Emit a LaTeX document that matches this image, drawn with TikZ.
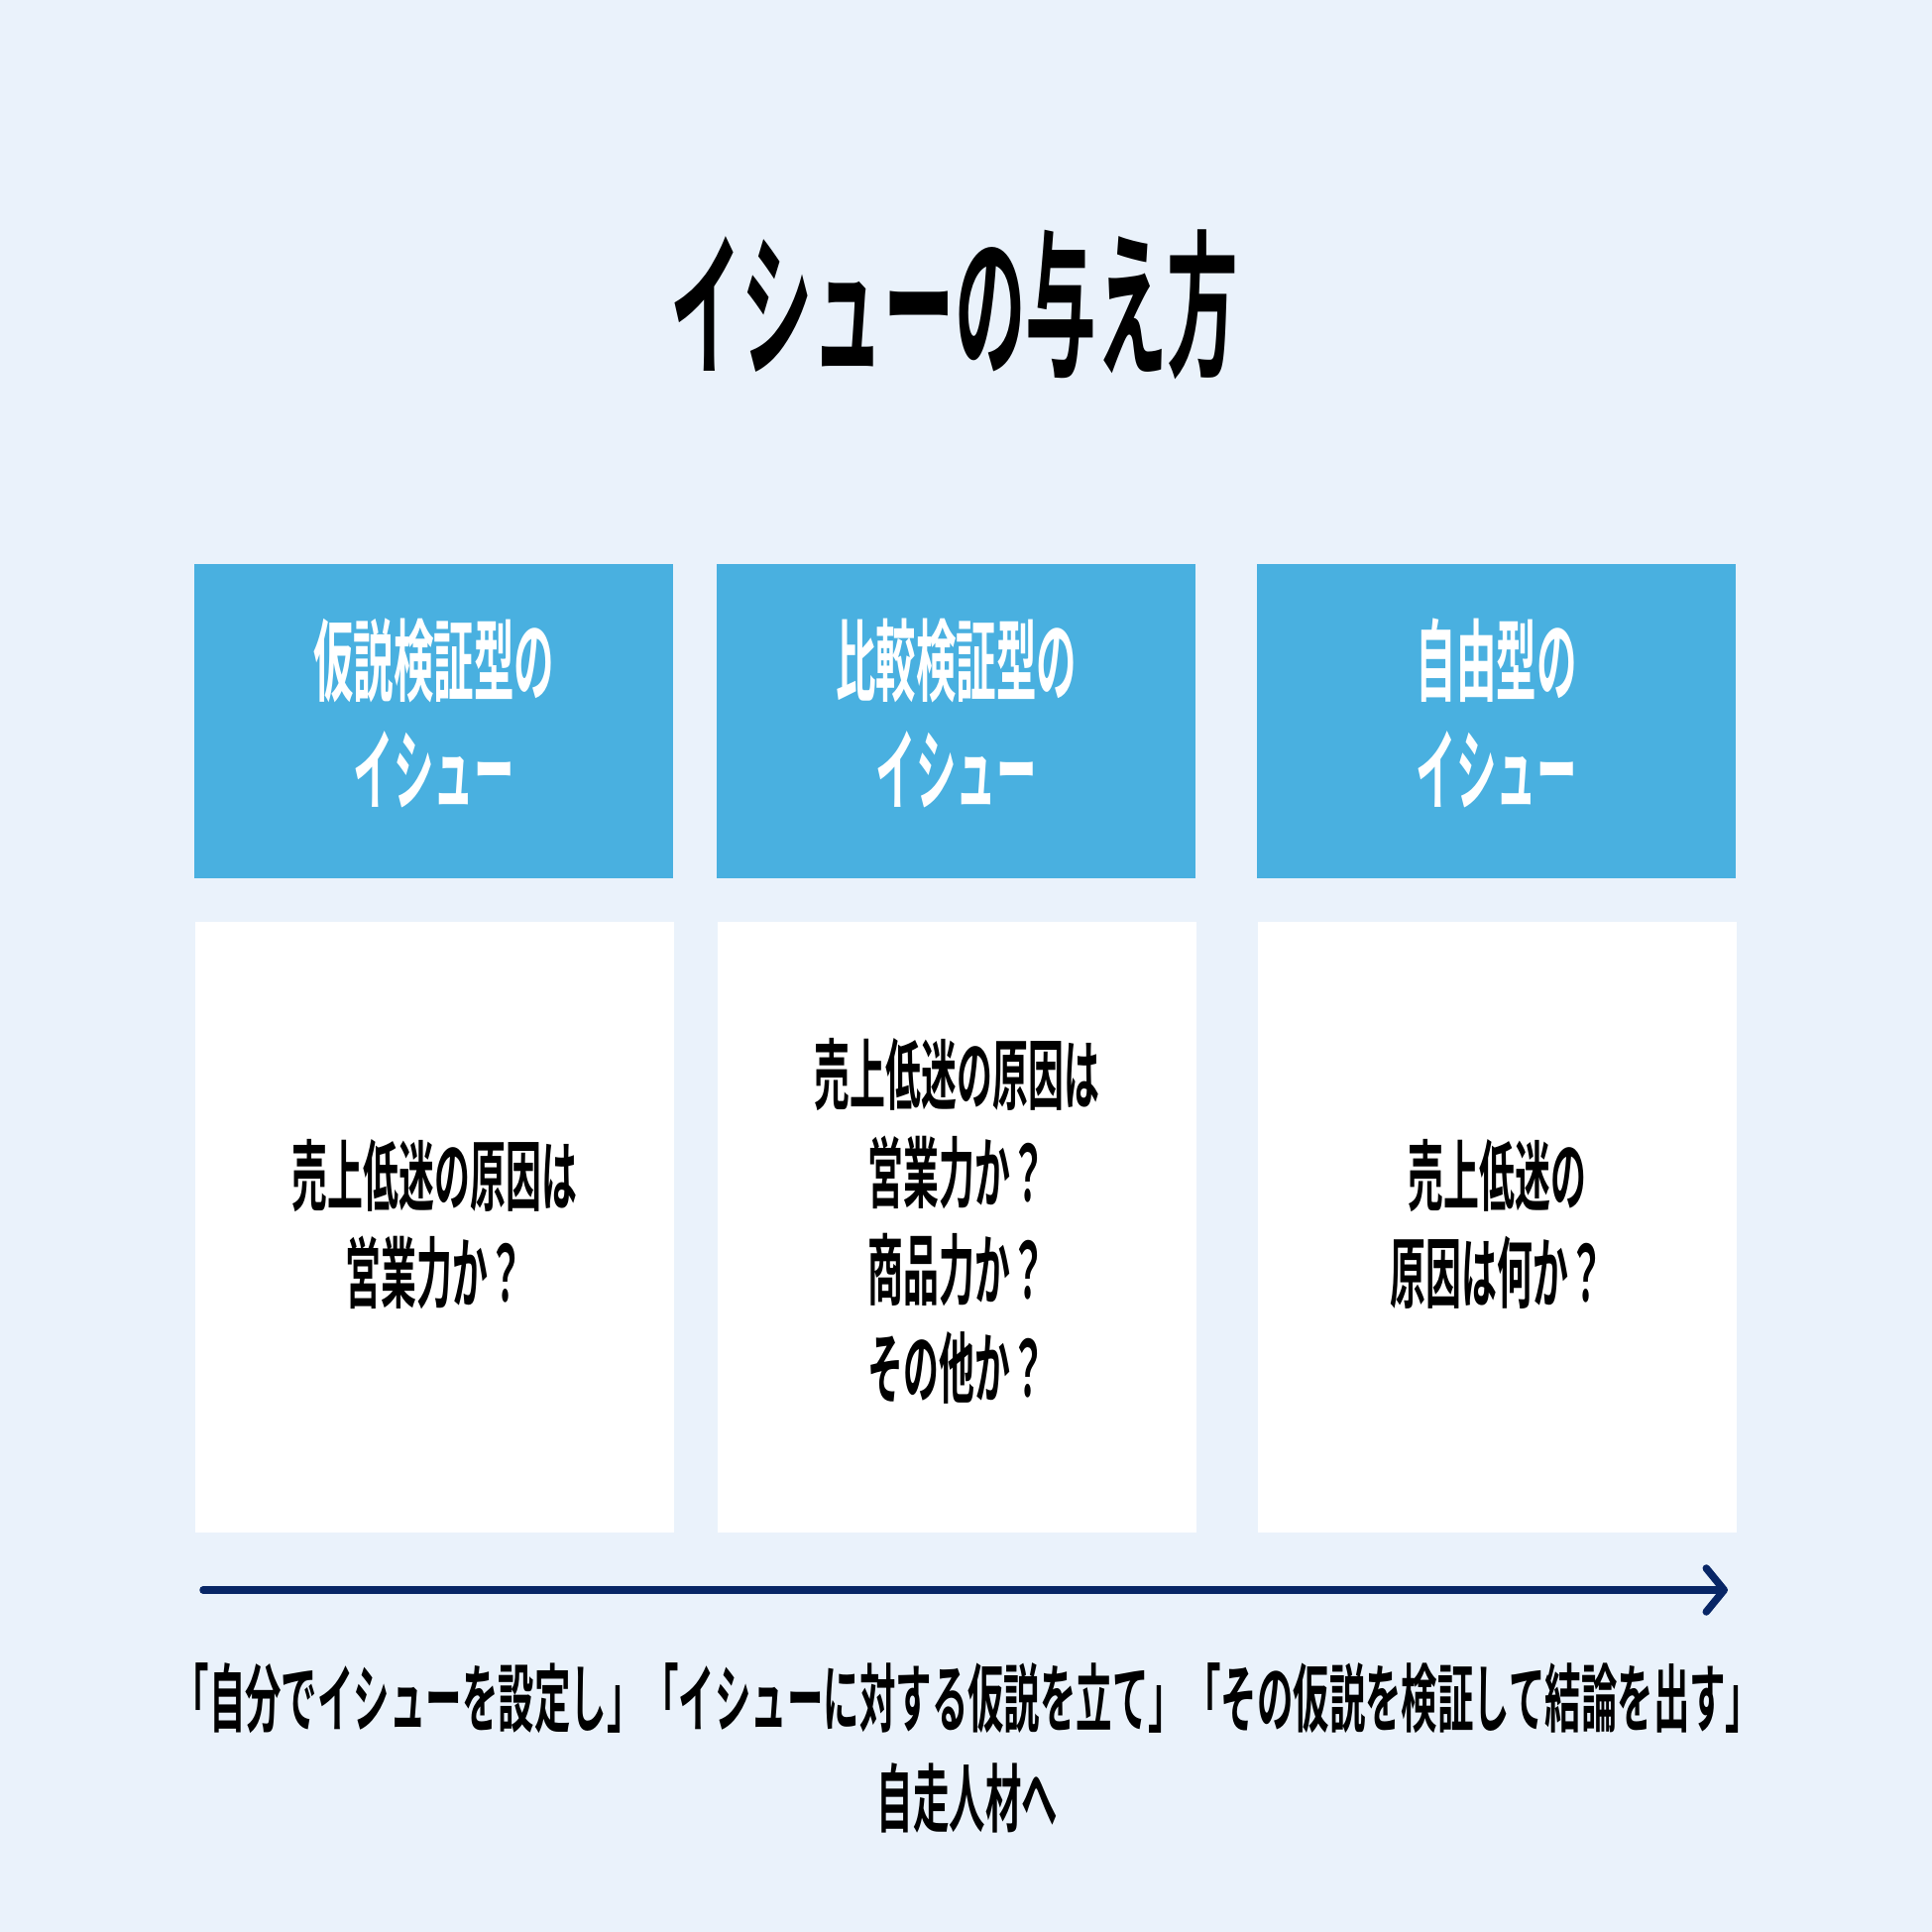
\documentclass[tikz,border=0pt]{standalone}
\usepackage{fontspec}
\usetikzlibrary{arrows.meta}
\newfontfamily\jp[FakeStretch=0.45]{Noto Sans CJK JP Bold}
\newfontfamily\jpm[FakeStretch=0.46]{Noto Sans CJK JP Bold}
\newfontfamily\jpw[FakeStretch=0.486]{Noto Sans CJK JP Bold}
\definecolor{bgc}{RGB}{234,242,251}
\definecolor{hdrc}{RGB}{73,176,224}
\definecolor{navy}{RGB}{8,38,102}
\tikzset{
  hdr/.style={fill=hdrc, draw=none, minimum width=483pt, minimum height=317pt, inner sep=0pt,
    text=white, align=center, font=\jp\fontsize{90}{110}\selectfont},
  hdrtxt/.style={inner sep=0pt, text=white, align=center, font=\jp\fontsize{90}{110}\selectfont},
  card/.style={fill=white, draw=none, minimum width=483pt, minimum height=616pt, inner sep=0pt},
  cardtxt/.style={inner sep=0pt, text=black, align=center, font=\jpm\fontsize{78}{98.5}\selectfont},
  ttl/.style={inner sep=0pt, text=black, font=\jp\fontsize{159}{170}\selectfont},
  foot/.style={inner sep=0pt, text=black, font=\jpw\fontsize{75}{100}\selectfont},
  arr/.style={draw=navy, line width=7.5pt, line cap=round,
    -{Straight Barb[length=18pt, width=44pt, line cap=round, line join=round]}}
}
\begin{document}
\begin{tikzpicture}[x=1pt, y=-1pt]
\fill[bgc] (0,0) rectangle (1949,1949);
\useasboundingbox (0,0) rectangle (1949,1949);
\node[ttl] (title) at (963,307) {イシューの与え方};
\node[hdr] (h1) at (437.5,727.5) {};
\node[hdr] (h2) at (964.5,727.5) {};
\node[hdr] (h3) at (1509.5,727.5) {};
\node[hdrtxt] (t1) at (437.5,719) {仮説検証型の\\イシュー};
\node[hdrtxt] (t2) at (964.5,719) {比較検証型の\\イシュー};
\node[hdrtxt] (t3) at (1509.5,719) {自由型の\\イシュー};
\node[card] (c1) at (438.5,1238) {};
\node[card] (c2) at (965.5,1238) {};
\node[card] (c3) at (1510.5,1238) {};
\node[cardtxt] (d1) at (438.5,1235) {売上低迷の原因は\\営業力か？};
\node[cardtxt] (d2) at (965.5,1232) {売上低迷の原因は\\営業力か？\\商品力か？\\その他か？};
\node[cardtxt] (d3) at (1510.5,1235) {売上低迷の\\原因は何か？};
\coordinate (as) at (205,1604);
\coordinate (ae) at (1743,1604);
\draw[arr] (as) -- (ae);
\node[foot] (f1) at (976,1713) {「自分でイシューを設定し」「イシューに対する仮説を立て」「その仮説を検証して結論を出す」};
\node[foot] (f2) at (976,1814) {自走人材へ};
\end{tikzpicture}
\end{document}
